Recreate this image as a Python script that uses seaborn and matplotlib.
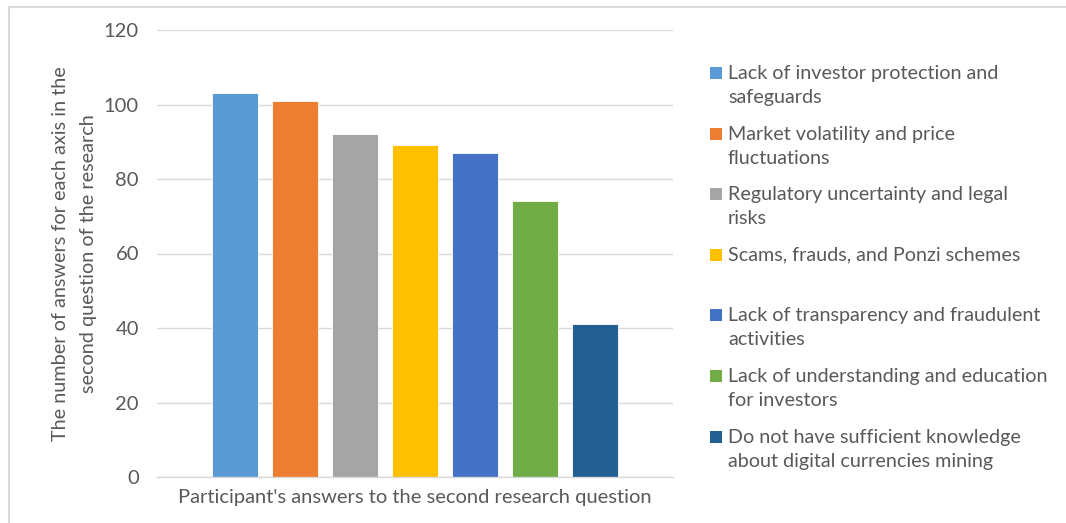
import matplotlib
matplotlib.use("Agg")
import matplotlib.pyplot as plt
import seaborn as sns
import pandas as pd
from matplotlib.patches import Rectangle

categories = [
    "Lack of investor protection and\nsafeguards",
    "Market volatility and price\nfluctuations",
    "Regulatory uncertainty and legal\nrisks",
    "Scams, frauds, and Ponzi schemes",
    "Lack of transparency and fraudulent\nactivities",
    "Lack of understanding and education\nfor investors",
    "Do not have sufficient knowledge\nabout digital currencies mining",
]
values = [103, 101, 92, 89, 87, 74, 41]
colors = ["#5B9BD5", "#ED7D31", "#A5A5A5", "#FFC000", "#4472C4", "#70AD47", "#255E91"]
yticks = [0, 20, 40, 60, 80, 100, 120]
xlabel = "Participant's answers to the second research question"
ylabel = "The number of answers for each axis in the\nsecond question of the research"

sns.set_theme(style="white")
plt.rcParams["font.family"] = ["Lato", "DejaVu Sans"]
TXT = "#595959"

W, H = 1066, 523
fig = plt.figure(figsize=(W / 100, H / 100), dpi=100)
fig.patch.set_facecolor("white")

# axes in pixel coords: left 157, right 673, top 30, bottom 477
ax = fig.add_axes([157 / W, 1 - 477 / H, (673 - 157) / W, (477 - 30) / H])

df = pd.DataFrame({"cat": categories, "val": values})
sns.barplot(data=df, x="cat", y="val", hue="cat", palette=colors, order=categories,
            hue_order=categories, dodge=False, width=0.78, legend=False, ax=ax,
            saturation=1, edgecolor="white", linewidth=0.6)

ax.set_xlim(-1.3, 7.3)
ax.set_ylim(0, 120)
ax.set_yticks(yticks)
ax.set_yticklabels([str(t) for t in yticks], color=TXT, fontsize=14.5)
ax.tick_params(axis="y", length=0, pad=13)
ax.set_xticks([])
ax.grid(axis="y", color="#D9D9D9", linewidth=1)
ax.set_axisbelow(True)
for s in ["left", "right", "top"]:
    ax.spines[s].set_visible(False)
ax.spines["bottom"].set_color("#D9D9D9")
ax.spines["bottom"].set_linewidth(1)
ax.set_xlabel(xlabel, color=TXT, fontsize=14.5, labelpad=9)
ax.set_ylabel(ylabel, color=TXT, fontsize=14.3, linespacing=1.8)
ax.yaxis.set_label_coords(-(157 - 97) / (673 - 157), 0.5)

# legend drawn manually in figure pixel coordinates
for i, (lab, col) in enumerate(zip(categories, colors)):
    ytop = 73 + i * 60.6
    fig.add_artist(Rectangle((710 / W, 1 - (ytop + 6) / H), 12 / W, 12 / H,
                             transform=fig.transFigure, facecolor=col, edgecolor="none"))
    fig.text(728 / W, 1 - (ytop - 8) / H, lab, color=TXT, fontsize=14.2,
             va="top", ha="left", linespacing=1.5)

# outer border
fig.add_artist(Rectangle((9 / W, -0.05), 1.1, 1 - 7 / H + 0.05, transform=fig.transFigure,
                         facecolor="none", edgecolor="#D9D9D9", linewidth=1.5))

fig.savefig("out.png", dpi=100)
